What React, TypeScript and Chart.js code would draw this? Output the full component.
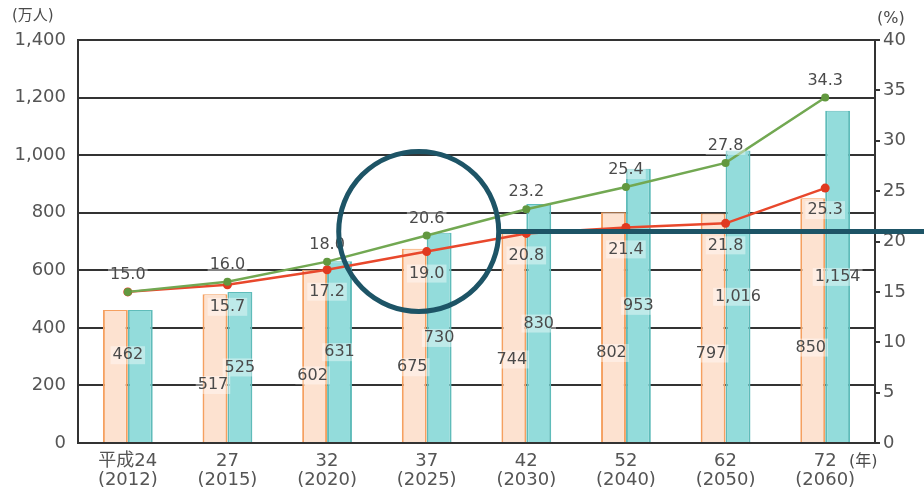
import React, { useEffect, useRef } from "react";
import { Chart, registerables } from "chart.js";

Chart.register(...registerables);

const categories: string[][] = [
  ["平成24", "(2012)"],
  ["27", "(2015)"],
  ["32", "(2020)"],
  ["37", "(2025)"],
  ["42", "(2030)"],
  ["52", "(2040)"],
  ["62", "(2050)"],
  ["72", "(2060)"],
];
const peopleLow: number[] = [462, 517, 602, 675, 744, 802, 797, 850];
const peopleHigh: number[] = [462, 525, 631, 730, 830, 953, 1016, 1154];
const rateHigh: number[] = [15.0, 16.0, 18.0, 20.6, 23.2, 25.4, 27.8, 34.3];
const rateLow: number[] = [15.0, 15.7, 17.2, 19.0, 20.8, 21.4, 21.8, 25.3];
const leftTicks: number[] = [0, 200, 400, 600, 800, 1000, 1200, 1400];
const rightTicks: number[] = [0, 5, 10, 15, 20, 25, 30, 35, 40];
const highlightIndex = 2.92;
const highlightRate = 21;

const FONT = "'DejaVu Sans', 'Noto Sans CJK JP', sans-serif";
const TEXT = "#4a4a4a";
const GRID = "#333333";

const fmt = (n: number) => n.toLocaleString("en-US");

const labelPlugin = {
  id: "labels",
  afterDatasetsDraw(chart: any) {
    const ctx = chart.ctx as CanvasRenderingContext2D;
    const x = chart.scales.x;
    const y = chart.scales.y;
    const y1 = chart.scales.y1;
    ctx.save();
    ctx.font = `16px ${FONT}`;
    ctx.textAlign = "center";
    ctx.textBaseline = "middle";
    const drawLabel = (t: string, px: number, py: number) => {
      const w = ctx.measureText(t).width;
      ctx.fillStyle = "rgba(255,255,255,0.4)";
      ctx.fillRect(px - w / 2 - 2, py - 9, w + 4, 18);
      ctx.fillStyle = TEXT;
      ctx.fillText(t, px, py);
    };
    const m0 = chart.getDatasetMeta(0);
    const m1 = chart.getDatasetMeta(1);
    const m2 = chart.getDatasetMeta(2);
    const m3 = chart.getDatasetMeta(3);
    for (let i = 0; i < categories.length; i++) {
      if (peopleLow[i] === peopleHigh[i]) {
        drawLabel(fmt(peopleLow[i]), x.getPixelForValue(i), y.getPixelForValue(peopleLow[i] * 0.66));
      } else {
        drawLabel(fmt(peopleLow[i]), m0.data[i].x - 2, y.getPixelForValue(peopleLow[i] * 0.39));
        drawLabel(fmt(peopleHigh[i]), m1.data[i].x, y.getPixelForValue(peopleHigh[i] * 0.5));
      }
      drawLabel(rateHigh[i].toFixed(1), m3.data[i].x, m3.data[i].y - 17);
      if (rateLow[i] !== rateHigh[i]) {
        drawLabel(rateLow[i].toFixed(1), m2.data[i].x, m2.data[i].y + 22);
      }
    }
    // unit labels
    ctx.fillStyle = TEXT;
    ctx.font = `15px ${FONT}`;
    ctx.textAlign = "left";
    ctx.fillText("(万人)", 12, 16);
    ctx.font = `16px ${FONT}`;
    ctx.fillText("(%)", 877, 19);
    ctx.fillText("(年)", 849, 462);
    // highlight annotation
    const cx = x.getPixelForValue(highlightIndex);
    const cy = y1.getPixelForValue(highlightRate);
    const r = 80;
    ctx.strokeStyle = "#1d5466";
    ctx.lineWidth = 5;
    ctx.beginPath();
    ctx.arc(cx, cy, r, 0, Math.PI * 2);
    ctx.stroke();
    ctx.beginPath();
    ctx.moveTo(cx + r, cy);
    ctx.lineTo(chart.width, cy);
    ctx.stroke();
    ctx.restore();
  },
};

export default function App() {
  const ref = useRef<HTMLCanvasElement | null>(null);
  useEffect(() => {
    if (!ref.current) return;
    const chart = new Chart(ref.current, {
      type: "bar",
      data: {
        labels: categories,
        datasets: [
          {
            type: "bar",
            data: peopleLow,
            backgroundColor: "#fde2d0",
            borderColor: "#f5a060",
            borderWidth: { left: 2, right: 2, top: 1, bottom: 0 },
            yAxisID: "y",
            order: 2,
          } as any,
          {
            type: "bar",
            data: peopleHigh,
            backgroundColor: "#93dcdb",
            borderColor: "#5fbcba",
            borderWidth: { left: 2, right: 2, top: 1, bottom: 0 },
            yAxisID: "y",
            order: 2,
          } as any,
          {
            type: "line",
            data: rateLow,
            borderColor: "#e8482c",
            backgroundColor: "#e03a20",
            borderWidth: 2.5,
            pointRadius: 4.5,
            pointBorderWidth: 0,
            yAxisID: "y1",
            order: 1,
          },
          {
            type: "line",
            data: rateHigh,
            borderColor: "#72a852",
            backgroundColor: "#62983f",
            borderWidth: 2.5,
            pointRadius: 4,
            pointBorderWidth: 0,
            yAxisID: "y1",
            order: 0,
          },
        ],
      },
      options: {
        animation: false,
        responsive: false,
        maintainAspectRatio: false,
        layout: { padding: { top: 40, left: 0, right: 0, bottom: 0 } },
        plugins: { legend: { display: false }, tooltip: { enabled: false } },
        datasets: { bar: { barPercentage: 1, categoryPercentage: 0.5 } },
        scales: {
          x: {
            grid: { display: false, drawTicks: false },
            border: { display: true, color: GRID, width: 2 },
            ticks: {
              color: "#555",
              font: { family: FONT, size: 18, lineHeight: 1.1 },
              padding: 8,
              maxRotation: 0,
              autoSkip: false,
            },
            afterFit: (s: any) => {
              s.height = 48;
            },
          },
          y: {
            position: "left",
            min: 0,
            max: 1400,
            afterBuildTicks: (s: any) => {
              s.ticks = leftTicks.map((v) => ({ value: v }));
            },
            grid: { color: GRID, lineWidth: 2, drawTicks: false },
            border: { display: true, color: GRID, width: 2 },
            ticks: {
              color: "#555",
              font: { family: FONT, size: 18 },
              padding: 12,
              callback: (v: any) => fmt(Number(v)),
            },
            afterFit: (s: any) => {
              s.width = 78;
            },
          },
          y1: {
            position: "right",
            min: 0,
            max: 40,
            afterBuildTicks: (s: any) => {
              s.ticks = rightTicks.map((v) => ({ value: v }));
            },
            grid: { drawOnChartArea: false, drawTicks: true, tickLength: 5, color: GRID, lineWidth: 2 },
            border: { display: true, color: GRID, width: 2 },
            ticks: {
              color: "#555",
              font: { family: FONT, size: 18 },
              padding: 3,
            },
            afterFit: (s: any) => {
              s.width = 49;
            },
          },
        },
      },
      plugins: [labelPlugin],
    });
    return () => chart.destroy();
  }, []);
  return (
    <div style={{ position: "fixed", left: 0, top: 0, width: 924, height: 491, background: "#fff" }}>
      <canvas ref={ref} width={924} height={491} style={{ width: 924, height: 491 }} />
    </div>
  );
}
